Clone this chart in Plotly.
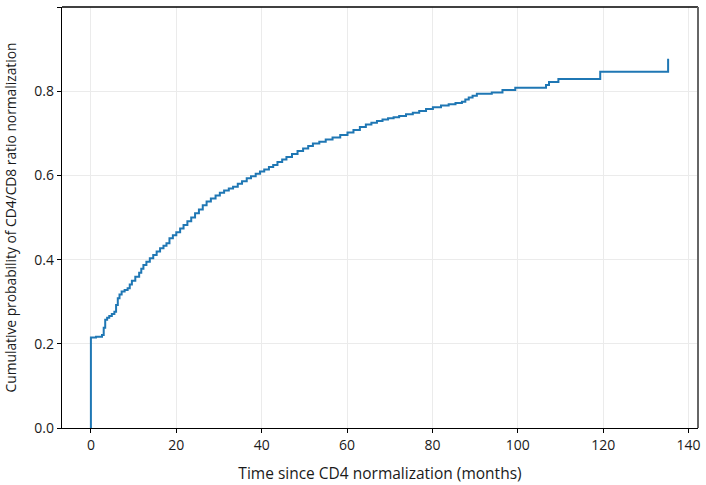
import plotly.graph_objects as go

months = [0, 0, 1.2, 2.6, 3.0, 3.35, 3.8, 4.3, 4.9, 5.5, 5.9, 6.3, 6.7, 7.2, 7.9, 8.6, 9.1, 9.6, 10.4, 11.3,
          11.8, 12.3, 13.0, 13.8, 14.6, 15.4, 16.2, 17.0, 17.7, 18.4, 19.2, 20.0, 20.9, 21.7, 22.6, 23.5, 24.4,
          25.3, 26.2, 27.1, 28.1, 29.2, 30.2, 31.2, 32.3, 33.3, 34.4, 35.4, 36.5, 37.5, 38.6, 39.6, 40.6, 41.7,
          42.7, 43.7, 44.8, 45.8, 47.1, 48.4, 49.7, 50.9, 52.0, 53.5, 55.0, 56.6, 58.4, 60.1, 61.5, 63.0, 64.4,
          65.7, 67.0, 68.3, 69.6, 70.9, 72.2, 73.8, 75.4, 76.9, 78.5, 80.1, 82.0, 83.8, 85.4, 86.9, 87.7, 88.5,
          89.4, 90.4, 93.9, 96.4, 99.4, 106.6, 107.3, 109.5, 119.3, 135.2]
cum_prob = [0, 0.215, 0.217, 0.221, 0.238, 0.257, 0.262, 0.266, 0.271, 0.276, 0.292, 0.308, 0.317, 0.324,
            0.328, 0.332, 0.341, 0.350, 0.359, 0.369, 0.378, 0.387, 0.395, 0.403, 0.411, 0.419, 0.427, 0.433,
            0.439, 0.451, 0.458, 0.465, 0.474, 0.482, 0.491, 0.500, 0.510, 0.519, 0.529, 0.538, 0.545, 0.552,
            0.559, 0.564, 0.569, 0.573, 0.580, 0.586, 0.593, 0.598, 0.604, 0.609, 0.614, 0.620, 0.625, 0.632,
            0.638, 0.644, 0.651, 0.658, 0.664, 0.670, 0.676, 0.680, 0.685, 0.690, 0.696, 0.702, 0.708, 0.715,
            0.721, 0.725, 0.729, 0.733, 0.736, 0.738, 0.741, 0.745, 0.749, 0.753, 0.758, 0.762, 0.766, 0.769,
            0.772, 0.775, 0.780, 0.785, 0.789, 0.794, 0.797, 0.803, 0.808, 0.815, 0.822, 0.829, 0.846, 0.877]

x_ticks = [0, 20, 40, 60, 80, 100, 120, 140]
y_ticks = [0.0, 0.2, 0.4, 0.6, 0.8, 1.0]

fig = go.Figure()
fig.add_trace(go.Scatter(x=months, y=cum_prob, mode="lines", line_shape="hv",
                         line=dict(color="#1f77b4", width=2), showlegend=False))

font_family = "Open Sans, DejaVu Sans, sans-serif"
fig.update_layout(
    width=706, height=485,
    margin=dict(l=62, r=8, t=7, b=57),
    plot_bgcolor="white", paper_bgcolor="white",
    font=dict(family=font_family, size=13, color="#1a1a1a"),
    xaxis=dict(range=[-6.77, 142.2], tickvals=x_ticks, ticktext=[str(v) for v in x_ticks],
               showgrid=True, gridcolor="#ebebeb", gridwidth=1, zeroline=False, automargin=False,
               showline=True, linecolor="black", linewidth=1.3, ticks="outside", ticklen=4,
               tickcolor="black", title=dict(text="Time since CD4 normalization (months)", standoff=15,
                                             font=dict(size=15.5)),
               tickfont=dict(size=14)),
    yaxis=dict(range=[0, 1.0], tickvals=y_ticks, ticktext=[f"{v:.1f}" for v in y_ticks],
               showgrid=True, gridcolor="#ebebeb", gridwidth=1, zeroline=False, automargin=False,
               showline=True, linecolor="black", linewidth=1.3, ticks="outside", ticklen=4,
               tickcolor="black", title=dict(text="Cumulative probability of CD4/CD8 ratio normalization",
                                             standoff=14, font=dict(size=13.8)),
               tickfont=dict(size=14)),
    shapes=[
        dict(type="line", xref="paper", yref="paper", x0=0, x1=1, y0=1, y1=1,
             line=dict(color="black", width=1.3)),
        dict(type="line", xref="paper", yref="paper", x0=1, x1=1, y0=0, y1=1,
             line=dict(color="#666666", width=2)),
    ],
)
fig.write_html("out.html")
